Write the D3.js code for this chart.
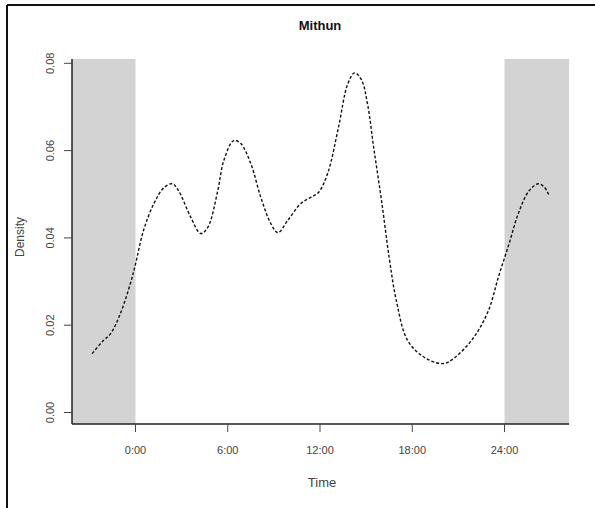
<!DOCTYPE html>
<html>
<head>
<meta charset="utf-8">
<script src="https://cdn.jsdelivr.net/npm/d3@7"></script>
<style>
  body { margin: 0; background: #fff; }
  text { font-family: "Liberation Sans", Arial, sans-serif; }
</style>
</head>
<body>
<div id="chart-area"></div>
<script>
// density curve (hours, density)
var hours = [-2.82, -2.09, -1.63, -0.98, -0.33, 0, 0.52, 1.2, 1.85, 2.4, 2.8, 3.6, 4.24, 4.7,
    5.35, 5.74, 6.39, 6.85, 7.5, 8.15, 8.8, 9.26, 9.9, 10.76, 11.4, 11.9, 12.5, 13.2, 13.8,
    14.25, 14.7, 15.1, 15.5, 16.0, 16.5, 16.96, 17.7, 18.8, 20.0, 20.7, 22.0, 22.96, 23.6,
    24.3, 24.9, 25.6, 26.2, 26.6, 26.9];
var density = [0.0135, 0.0165, 0.018, 0.0227, 0.0296, 0.034, 0.0417, 0.0479, 0.0515, 0.0524,
    0.0508, 0.0447, 0.041, 0.0424, 0.0508, 0.0577, 0.0623, 0.0616, 0.057, 0.0493, 0.0433,
    0.0412, 0.044, 0.0479, 0.0493, 0.0504, 0.0548, 0.0653, 0.0752, 0.0778, 0.0762, 0.0705,
    0.0605, 0.0486, 0.0355, 0.0257, 0.0165, 0.0126, 0.0112, 0.0124, 0.0172, 0.0234, 0.031,
    0.0387, 0.0456, 0.0508, 0.0524, 0.0516, 0.0497];

var xTicks = [0, 6, 12, 18, 24];
var xTickLabels = ["0:00", "6:00", "12:00", "18:00", "24:00"];
var yTicks = [0, 0.02, 0.04, 0.06, 0.08];
// night periods shaded grey
var nightStart = [-4.13, 24];
var nightEnd = [0, 28.2];

var svg = d3.select("#chart-area")
    .append("svg")
    .attr("width", 595)
    .attr("height", 508);

// frame (only top and left edges show)
svg.append("line").attr("x1", 7).attr("x2", 595).attr("y1", 5).attr("y2", 5)
    .attr("stroke", "#111").attr("stroke-width", 2);
svg.append("line").attr("x1", 7).attr("x2", 7).attr("y1", 5).attr("y2", 508)
    .attr("stroke", "#111").attr("stroke-width", 2);

// X Scale
var x = d3.scaleLinear()
    .domain([0, 24])
    .range([135.5, 504.5]);

// Y Scale
var y = d3.scaleLinear()
    .domain([0, 0.08])
    .range([412.5, 63.3]);

var x0 = x(-4.13), x1 = x(28.2);
var yTop = 59, yBot = 424;

// grey night bands
svg.selectAll("rect.night")
    .data(nightStart)
    .enter()
    .append("rect")
    .attr("class", "night")
    .attr("x", function(d){ return x(d); })
    .attr("width", function(d, i){ return x(nightEnd[i]) - x(d); })
    .attr("y", yTop)
    .attr("height", yBot - yTop)
    .attr("fill", "#d3d3d3");

// density line
var pts = hours.map(function(h, i){ return [h, density[i]]; });
var line = d3.line()
    .x(function(d){ return x(d[0]); })
    .y(function(d){ return y(d[1]); })
    .curve(d3.curveCatmullRom);

svg.append("path")
    .datum(pts)
    .attr("d", line)
    .attr("fill", "none")
    .attr("stroke", "#111")
    .attr("stroke-width", 1.4)
    .attr("stroke-dasharray", "3,2");

// axes lines
svg.append("line").attr("x1", x0).attr("x2", x1).attr("y1", yBot).attr("y2", yBot)
    .attr("stroke", "#222").attr("stroke-width", 1.5);
svg.append("line").attr("x1", x0).attr("x2", x0).attr("y1", yTop).attr("y2", yBot)
    .attr("stroke", "#222").attr("stroke-width", 1.5);

// X Axis ticks
svg.selectAll("line.xtick")
    .data(xTicks)
    .enter()
    .append("line")
    .attr("class", "xtick")
    .attr("x1", function(d){ return x(d); })
    .attr("x2", function(d){ return x(d); })
    .attr("y1", yBot)
    .attr("y2", yBot + 8)
    .attr("stroke", "#444");

svg.selectAll("text.xlab")
    .data(xTicks)
    .enter()
    .append("text")
    .attr("class", "xlab")
    .attr("x", function(d){ return x(d); })
    .attr("y", 454)
    .attr("text-anchor", "middle")
    .attr("font-size", "11px")
    .attr("fill", "#444")
    .text(function(d, i){ return xTickLabels[i]; });

// Y Axis ticks
svg.selectAll("line.ytick")
    .data(yTicks)
    .enter()
    .append("line")
    .attr("class", "ytick")
    .attr("x1", x0 - 8)
    .attr("x2", x0)
    .attr("y1", function(d){ return y(d); })
    .attr("y2", function(d){ return y(d); })
    .attr("stroke", "#444");

svg.selectAll("text.ylab")
    .data(yTicks)
    .enter()
    .append("text")
    .attr("class", "ylab")
    .attr("transform", function(d){ return "translate(54," + y(d) + ") rotate(-90)"; })
    .attr("text-anchor", "middle")
    .attr("font-size", "11px")
    .attr("fill", "#444")
    .text(function(d){ return d3.format(".2f")(d); });

// Title
svg.append("text")
    .attr("x", 320)
    .attr("y", 30)
    .attr("text-anchor", "middle")
    .attr("font-size", "13px")
    .attr("font-weight", "bold")
    .attr("fill", "#111")
    .text("Mithun");

// X Label
svg.append("text")
    .attr("x", 322)
    .attr("y", 487)
    .attr("text-anchor", "middle")
    .attr("font-size", "13px")
    .attr("fill", "#444")
    .text("Time");

// Y Label
svg.append("text")
    .attr("transform", "translate(24,237) rotate(-90)")
    .attr("text-anchor", "middle")
    .attr("font-size", "12px")
    .attr("fill", "#444")
    .text("Density");
</script>
</body>
</html>
